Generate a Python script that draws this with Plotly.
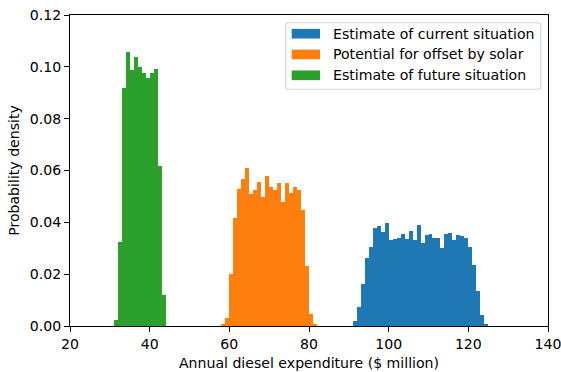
import plotly.graph_objects as go

# ---- data (bin left edges, width 1, and probability densities) ----
current_edges = [91, 92, 93, 94, 95, 96, 97, 98, 99, 100, 101, 102, 103, 104, 105, 106, 107,
                 108, 109, 110, 111, 112, 113, 114, 115, 116, 117, 118, 119, 120, 121, 122, 123, 124]
current_density = [0.0018, 0.0073, 0.0161, 0.0261, 0.0304, 0.0377, 0.0386, 0.0363, 0.0396, 0.0332,
                   0.0336, 0.0340, 0.0355, 0.0337, 0.0367, 0.0333, 0.0390, 0.0321, 0.0351, 0.0354,
                   0.0338, 0.0338, 0.0301, 0.0356, 0.0357, 0.0331, 0.0350, 0.0347, 0.0340, 0.0305,
                   0.0234, 0.0135, 0.0042, 0.0004]

solar_edges = [58, 59, 60, 61, 62, 63, 64, 65, 66, 67, 68, 69, 70, 71, 72, 73, 74, 75, 76, 77,
               78, 79, 80, 81]
solar_density = [0.0006, 0.0032, 0.0201, 0.0415, 0.0527, 0.0567, 0.0608, 0.0508, 0.0525, 0.0554,
                 0.0498, 0.0577, 0.0538, 0.0523, 0.0552, 0.0480, 0.0551, 0.0512, 0.0535, 0.0523,
                 0.0448, 0.0233, 0.0046, 0.0006]

future_edges = [31, 32, 33, 34, 35, 36, 37, 38, 39, 40, 41, 42, 43]
future_density = [0.0023, 0.0323, 0.0918, 0.1056, 0.0988, 0.1038, 0.1000, 0.0975, 0.0958, 0.0975,
                  0.0990, 0.0617, 0.0120]

series_names = ["Estimate of current situation", "Potential for offset by solar",
                "Estimate of future situation"]
series_colors = ["#1f77b4", "#ff7f0e", "#2ca02c"]

x_ticks = [20, 40, 60, 80, 100, 120, 140]
y_ticks = [0.00, 0.02, 0.04, 0.06, 0.08, 0.10, 0.12]

# ---- layout geometry ----
W, H = 561, 372
L, R, T, B = 70, 13, 15, 46
PW, PH = W - L - R, H - T - B
FONT = "DejaVu Sans"
FS = 14.1


def px(x):
    return (x - L) / PW


def py(y):
    return (H - B - y) / PH


fig = go.Figure()
for edges, dens, name, col in [
    (current_edges, current_density, series_names[0], series_colors[0]),
    (solar_edges, solar_density, series_names[1], series_colors[1]),
    (future_edges, future_density, series_names[2], series_colors[2]),
]:
    fig.add_trace(go.Bar(
        x=[e + 0.5 for e in edges], y=dens, width=1.0, name=name,
        marker=dict(color=col, line=dict(width=0)), showlegend=False,
        hoverinfo="x+y",
    ))

# ---- custom matplotlib-like legend ----
shapes = []
bx0, bx1, by0, by1, r = 285.7, 540.7, 22.7, 89.3, 2.8


def P(x, y):
    return f"{px(x)},{py(y)}"


path = (f"M {P(bx0 + r, by0)} L {P(bx1 - r, by0)} Q {P(bx1, by0)} {P(bx1, by0 + r)} "
        f"L {P(bx1, by1 - r)} Q {P(bx1, by1)} {P(bx1 - r, by1)} "
        f"L {P(bx0 + r, by1)} Q {P(bx0, by1)} {P(bx0, by1 - r)} "
        f"L {P(bx0, by0 + r)} Q {P(bx0, by0)} {P(bx0 + r, by0)} Z")
shapes.append(dict(type="path", xref="paper", yref="paper", path=path,
                   fillcolor="rgba(255,255,255,0.8)",
                   line=dict(color="rgba(204,204,204,0.8)", width=1.1), layer="above"))
annotations = []
row_y = [33.7, 54.5, 75.3]
for name, col, yc in zip(series_names, series_colors, row_y):
    shapes.append(dict(type="rect", xref="paper", yref="paper",
                       x0=px(291.7), x1=px(320), y0=py(yc - 4.85), y1=py(yc + 4.85),
                       fillcolor=col, line=dict(width=0), layer="above"))
    annotations.append(dict(xref="paper", yref="paper", x=px(330.5), y=py(yc),
                            text=name, showarrow=False, xanchor="left", yanchor="middle",
                            font=dict(family=FONT, size=FS, color="black")))

axis_common = dict(showline=True, mirror=True, linecolor="black", linewidth=1.1,
                   ticks="outside", ticklen=4.9, tickwidth=1.1, tickcolor="black",
                   showgrid=False, zeroline=False, automargin=False,
                   ticklabeloverflow="allow",
                   tickfont=dict(family=FONT, size=FS, color="black"))

fig.update_layout(
    width=W, height=H,
    margin=dict(l=L, r=R, t=T, b=B, pad=0),
    paper_bgcolor="white", plot_bgcolor="white",
    barmode="overlay", bargap=0,
    font=dict(family=FONT, size=FS, color="black"),
    xaxis=dict(range=[20, 140], tickvals=x_ticks,
               title=dict(text="Annual diesel expenditure ($ million)",
                          font=dict(family=FONT, size=FS, color="black"), standoff=7),
               **axis_common),
    yaxis=dict(range=[0, 0.12], tickvals=y_ticks, tickformat=".2f",
               title=dict(text="Probability density",
                          font=dict(family=FONT, size=FS, color="black"), standoff=6),
               **axis_common),
    shapes=shapes, annotations=annotations,
)

fig.write_html("out.html", config={"displayModeBar": False},
               post_script="document.body.style.margin='0';document.body.style.overflow='hidden';")
